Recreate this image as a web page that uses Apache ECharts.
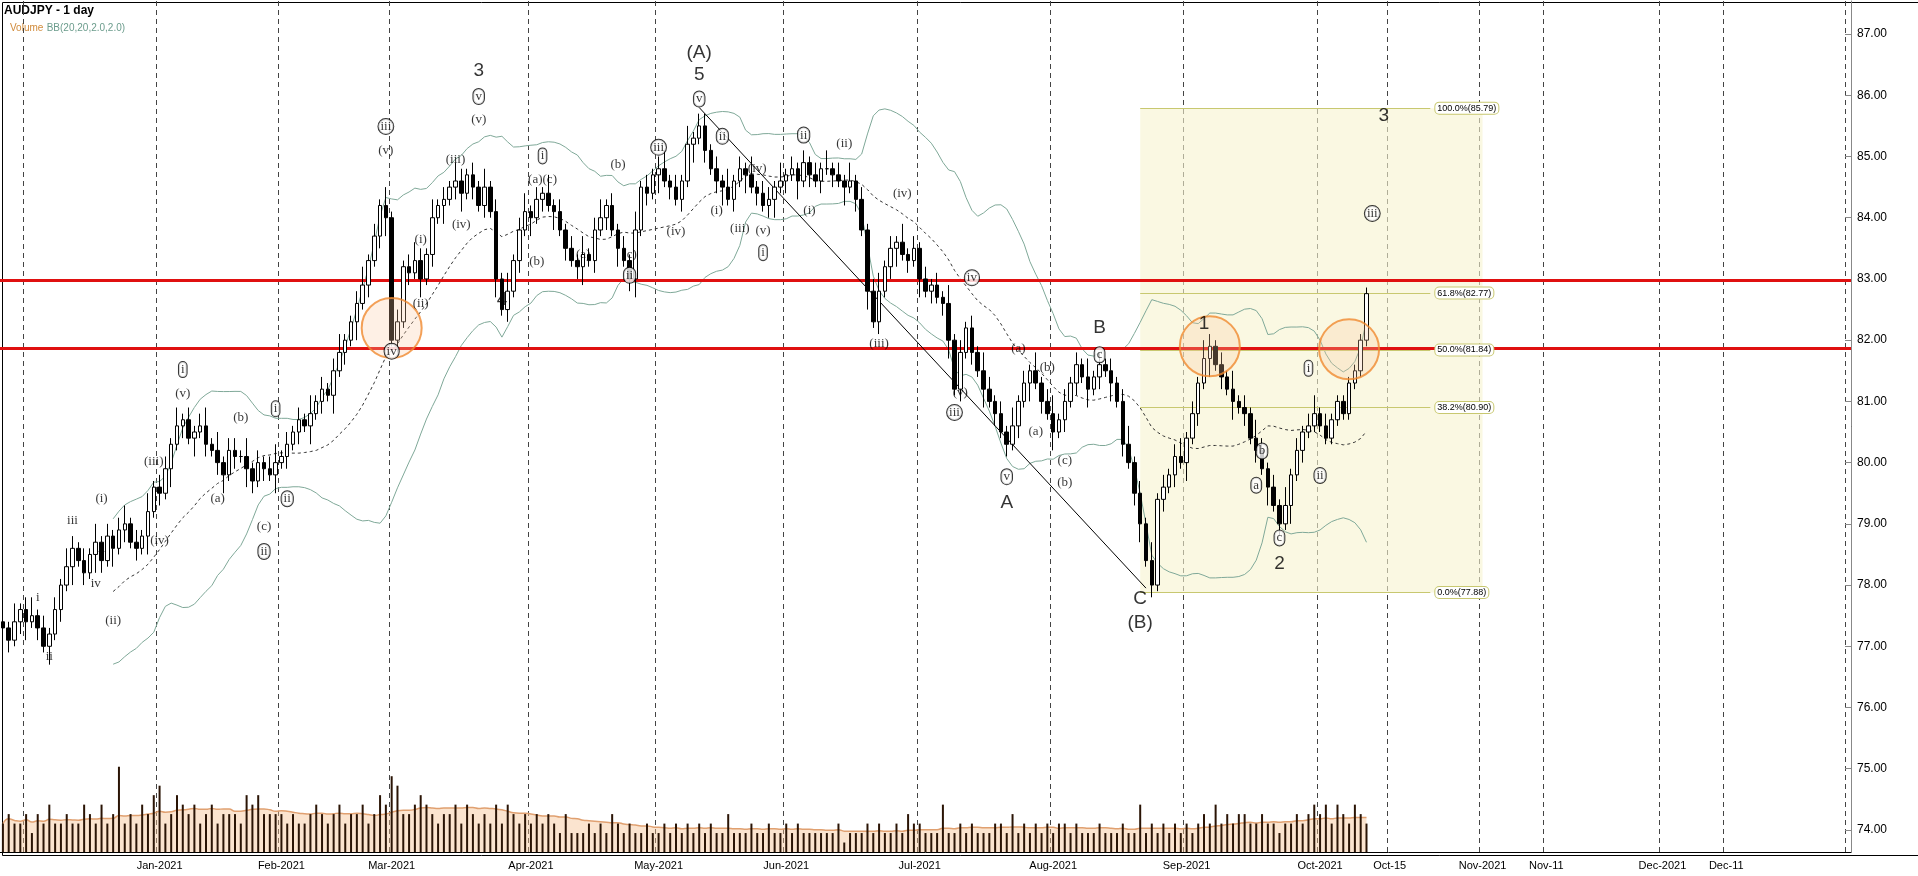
<!DOCTYPE html><html><head><meta charset="utf-8">
<script src="https://cdn.jsdelivr.net/npm/echarts@6/dist/echarts.min.js"></script>
<style>html,body{margin:0;background:#fff}#c{width:1918px;height:876px}</style></head><body><div id="c"></div>
<script>
const closes=[77.3,77.1,77.4,77.6,77.4,77.5,77.3,77.0,77.2,77.6,
78.0,78.3,78.6,78.4,78.2,78.5,78.7,78.4,78.8,78.6,
78.9,79.0,78.7,78.6,78.8,79.2,79.6,79.5,79.9,80.3,
80.6,80.7,80.4,80.5,80.6,80.3,80.2,80.0,79.8,80.2,
80.1,80.1,79.9,79.7,80.0,79.9,79.8,80.0,80.1,80.3,
80.5,80.7,80.6,80.8,81.0,81.2,81.1,81.5,81.8,82.0,
82.3,82.6,82.9,83.3,83.7,84.2,84.0,82.0,82.3,83.2,
83.1,83.3,83.0,83.4,84.0,84.2,84.3,84.5,84.6,84.4,
84.7,84.5,84.2,84.5,84.1,83.0,82.5,82.8,83.3,83.8,
84.1,84.0,84.3,84.4,84.2,84.1,83.8,83.5,83.3,83.2,
83.4,83.3,83.8,84.0,84.2,83.8,83.5,83.3,83.0,83.8,
84.5,84.4,84.7,84.8,84.6,84.5,84.3,84.6,85.2,85.3,
85.5,85.1,84.8,84.6,84.5,84.3,84.6,84.8,84.7,84.5,
84.4,84.2,84.3,84.5,84.6,84.7,84.8,84.6,84.9,84.7,
84.6,84.8,84.8,84.7,84.6,84.5,84.6,84.3,83.8,82.8,
82.3,82.8,83.2,83.5,83.6,83.4,83.3,83.5,83.0,82.8,
82.9,82.7,82.6,82.0,81.2,81.8,82.2,81.8,81.5,81.2,
81.0,80.8,80.5,80.3,80.6,81.0,81.3,81.5,81.3,81.0,
80.8,80.5,80.7,81.0,81.3,81.6,81.4,81.2,81.4,81.6,
81.5,81.3,81.0,80.3,80.0,79.5,79.0,78.4,78.0,79.4,
79.6,79.8,80.1,80.0,80.4,80.8,81.3,81.7,81.9,81.6,
81.4,81.2,81.0,80.9,80.8,80.4,80.2,79.9,79.6,79.3,
79.0,79.3,79.8,80.2,80.5,80.6,80.8,80.6,80.4,80.7,
81.0,80.8,81.3,81.5,82.0,82.76];
const wickUp='2131231212132121312123121312213121231312213121231212131212311231213121232131213212131213123121312121312312121312123121312212131213122131212121312131212312131212121312121321213121312312121312121231213121231213212131213212131212312';
const wickDn='1212312131213121321312121312131213121231213212131212131213121312123121213121312312121312121312131212312121312312131212131212312131212312131212121312131212312131212312121312121213121312121312131212312121213121312131212131213121';
const volDigits='34334243533433543534934354673465453453444365644443433454345344534658744565434453543435354343434324222323243232232232323232322422232232232322222231222323223243322252232322233242323232332322232223225232323232343534344334332334345453543543';
const levels=[77.88,80.90,81.84,82.77,85.79];
const levelNames=['0.0%(77.88)','38.2%(80.90)','50.0%(81.84)','61.8%(82.77)','100.0%(85.79)'];
const resistance=[82.98,81.87];
const lastPrice=82.76;
const priceTicks=[74,75,76,77,78,79,80,81,82,83,84,85,86,87];
const timeLabels={27:'Jan-2021',48:'Feb-2021',67:'Mar-2021',91:'Apr-2021',113:'May-2021',135:'Jun-2021',158:'Jul-2021',181:'Aug-2021',204:'Sep-2021',227:'Oct-2021',239:'Oct-15',255:'Nov-2021',266:'Nov-11',286:'Dec-2021',297:'Dec-11'};
const extraLines=[4,318];
const annotations=[['i',6,77.8,0],['ii',8,76.84,0],['iii',12,79.05,0],['iv',16,78.02,0],['v',17,78.51,0],['(i)',17,79.41,0],['(ii)',19,77.42,0],['(iii)',26,80.01,0],['(iv)',27,78.73,0],['i',31,81.52,1],['(v)',31,81.12,0],['(a)',37,79.41,0],['(b)',41,80.73,0],['(c)',45,78.95,0],['ii',45,78.55,1],['ii',49,79.41,1],['i',47,80.88,1],
['iii',66,85.49,1],['(v)',66,85.09,0],['iv',67,81.82,1],['(i)',72,83.65,0],['(ii)',72,82.60,0],['(iii)',78,84.95,0],['(iv)',79,83.89,0],['v',82,85.98,1],['(v)',82,85.61,0],['3',82,86.4,2],['4',86,82.66,2],['i',93,85.01,1],['(a)(c)',93,84.63,0],['(b)',92,83.29,0],['(a)',100,83.39,0],['(b)',106,84.87,0],['(c)',108,83.39,0],['ii',108,83.06,1],['iii',113,85.15,1],['(iv)',116,83.77,0],['(A)',120,86.70,2],['5',120,86.34,2],['v',120,85.94,1],['ii',124,85.33,1],['(i)',123,84.11,0],['(iii)',127,83.83,0],['(iv)',130,84.81,0],['(v)',131,83.79,0],['i',131,83.43,1],['ii',138,85.35,1],['(i)',139,84.11,0],['(ii)',145,85.21,0],['(iv)',155,84.39,0],['(iii)',151,81.94,0],['iv',167,83.02,1],['(v)',165,81.14,0],['iii',164,80.82,1],['(a)',175,81.86,0],['(b)',180,81.56,0],['(a)',178,80.51,0],['v',173,79.77,1],['A',173,79.35,2],['(c)',183,80.03,0],['(b)',183,79.67,0],['B',189,82.2,2],['c',189,81.76,1],['C',196,77.78,2],['(B)',196,77.38,2],['1',207,82.26,2],['a',216,79.63,1],['b',217,80.19,1],['c',220,78.77,1],['2',220,78.35,2],['i',225,81.54,1],['ii',227,79.79,1],['iii',236,84.07,1],['3',238,85.67,2]];
const circles=[[67,82.2],[208,81.9],[232,81.85]];
const wave=[[120,85.8],[197,77.95]];

const N=319, nData=closes.length;
const cats=[];for(let i=0;i<N;i++)cats.push(String(i));
const lineIdx=new Set(extraLines.concat(Object.keys(timeLabels).map(Number)));
const ohlc=[];
for(let i=0;i<nData;i++){const o=i?closes[i-1]:77.4,c=closes[i];ohlc.push([o,c,Math.min(o,c)-(+wickDn[i]||1)/10,Math.max(o,c)+(+wickUp[i]||1)/10]);}
const vols=[];for(let i=0;i<nData;i++)vols.push(+volDigits[i]||3);
const volMA=vols.map((v,i)=>{const s=vols.slice(Math.max(0,i-19),i+1);return s.reduce((a,b)=>a+b,0)/s.length;});
const mid=[],up=[],lo=[];
for(let i=0;i<nData;i++){if(i<19){mid.push(null);up.push(null);lo.push(null);continue;}const s=closes.slice(i-19,i+1);const m=s.reduce((a,b)=>a+b,0)/20;const sd=Math.sqrt(s.reduce((a,b)=>a+(b-m)*(b-m),0)/20);mid.push(m);up.push(m+2*sd);lo.push(m-2*sd);}

const ann=annotations.map(a=>({value:[a[1],a[2]],label:{formatter:a[0],fontSize:a[3]==2?19:13,fontFamily:a[3]==2?'Liberation Sans':'Liberation Serif',color:'#000',
 backgroundColor:a[3]==1?'#fff':'transparent',borderColor:a[3]==1?'#000':'transparent',borderWidth:a[3]==1?1:0,borderRadius:9,padding:a[3]==1?[1,2]:0}}));

const chart=echarts.init(document.getElementById('c'));
chart.setOption({animation:false,
graphic:[{type:'text',left:4,top:5,style:{text:'AUDJPY - 1 day',font:'bold 12px Liberation Sans',fill:'#000'}},
{type:'text',left:10,top:22,style:{rich:{a:{fill:'#d08a3a',fontSize:10},b:{fill:'#6b9c8c',fontSize:10}},text:'{a|Volume} {b|BB(20,20,2.0,2.0)}'}},
{type:'rect',left:0,top:0,shape:{width:1917,height:853},style:{fill:'none',stroke:'#000',lineWidth:1},silent:true,z:0}],
grid:[{left:0,right:67,top:1,bottom:24},{left:0,right:67,top:762,bottom:24}],
xAxis:[{type:'category',data:cats,gridIndex:0,boundaryGap:true,axisLine:{show:true,lineStyle:{color:'#000'}},axisTick:{show:false},
 axisLabel:{interval:(i)=>timeLabels[i]!==undefined,formatter:(v,i)=>timeLabels[i]||'',fontSize:11,color:'#000',margin:8},
 splitLine:{show:true,interval:(i)=>lineIdx.has(i),lineStyle:{type:[5,4],color:'#444',width:1}}},
 {type:'category',data:cats,gridIndex:1,show:false}],
yAxis:[{type:'value',gridIndex:0,position:'right',min:73.64,max:87.54,splitLine:{show:false},
 axisLine:{show:true,lineStyle:{color:'#888'}},axisTick:{show:true,inside:true,length:6,customValues:priceTicks},
 axisLabel:{customValues:priceTicks,formatter:(v)=>v.toFixed(2),fontSize:12,color:'#000',margin:6}},
 {type:'value',gridIndex:1,min:0,max:9.5,show:false}],
series:[
{type:'candlestick',xAxisIndex:0,yAxisIndex:0,data:ohlc,barWidth:4,itemStyle:{color:'#fff',color0:'#000',borderColor:'#000',borderColor0:'#000',borderWidth:1},z:5,
 markArea:{silent:true,itemStyle:{color:'rgba(246,244,206,0.6)'},data:[[{xAxis:196,yAxis:levels[0]},{xAxis:255,yAxis:levels[4]}]]},
 markLine:{silent:true,symbol:'none',data:[
  ...resistance.map(v=>({yAxis:v,lineStyle:{color:'#e01010',width:3,type:'solid'},label:{show:false}})),
  {yAxis:lastPrice,lineStyle:{opacity:0},label:{show:true,position:'end',formatter:'82.76',fontSize:12,color:'#000',backgroundColor:'#fff',borderColor:'#000',borderWidth:1,padding:[1,3],distance:8}},
  ...levels.map((v,k)=>[{coord:[196,v],lineStyle:{color:'#c8c870',width:1,type:'solid'},label:{show:true,position:'end',formatter:levelNames[k],fontSize:9,color:'#000',backgroundColor:'#fff',borderColor:'#c8c870',borderWidth:1,borderRadius:4,padding:[1,2]}},{coord:[246,v]}]),
  [{coord:wave[0],lineStyle:{color:'#000',width:1,type:'solid'},label:{show:false}},{coord:wave[1]}]
 ]}},
{type:'line',data:up,symbol:'none',lineStyle:{color:'#7fa898',width:1},z:3},
{type:'line',data:lo,symbol:'none',lineStyle:{color:'#7fa898',width:1},z:3},
{type:'line',data:mid,symbol:'none',lineStyle:{color:'#333',width:1,type:[3,3]},z:3},
{type:'scatter',data:circles,symbol:'circle',symbolSize:60,itemStyle:{color:'rgba(250,200,160,0.35)',borderColor:'#f08a30',borderWidth:2},z:6},
{type:'scatter',data:ann,symbolSize:0,label:{show:true,position:'inside'},z:8},
{type:'bar',xAxisIndex:1,yAxisIndex:1,data:vols,barWidth:2,itemStyle:{color:'#2a1405'},z:4},
{type:'line',xAxisIndex:1,yAxisIndex:1,data:volMA,symbol:'none',smooth:true,lineStyle:{color:'#e0a070',width:1.5},areaStyle:{color:'rgba(245,190,140,0.6)'},z:2}
]});
</script></body></html>
